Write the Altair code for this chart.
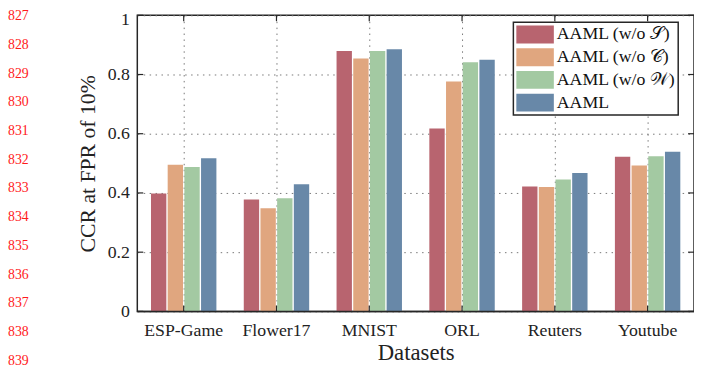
import altair as alt
import pandas as pd

# ---------------- data ----------------
datasets = ["ESP-Game", "Flower17", "MNIST", "ORL", "Reuters", "Youtube"]
series = ["AAML (w/o 𝒮)", "AAML (w/o 𝒞)", "AAML (w/o 𝒲)", "AAML"]
wo_s = [0.398, 0.378, 0.879, 0.618, 0.422, 0.522]
wo_c = [0.495, 0.348, 0.854, 0.776, 0.420, 0.493]
wo_w = [0.488, 0.382, 0.879, 0.841, 0.445, 0.524]
aaml = [0.517, 0.429, 0.885, 0.850, 0.467, 0.539]
y_ticks = [0, 0.2, 0.4, 0.6, 0.8, 1]
line_numbers = list(range(827, 840))
colors = ["#B8646F", "#E0A67F", "#A3C9A2", "#6888A8"]

rows = []
for i, d in enumerate(datasets):
    for s, vals in zip(series, [wo_s, wo_c, wo_w, aaml]):
        rows.append({"dataset": d, "series": s, "ccr": vals[i]})
df = pd.DataFrame(rows)
ydf = pd.DataFrame({"v": y_ticks})
xdf = pd.DataFrame({"dataset": datasets})
lndf = pd.DataFrame({"ln": line_numbers, "label": [str(n) for n in line_numbers]})
one = pd.DataFrame({"a": [0]})

# ---------------- style ----------------
W, H = 564, 300
FONT = "Liberation Serif"
FRAME = "#262626"
TL = 6

xscale = alt.Scale(domain=datasets, paddingInner=0.295, paddingOuter=0.1475)
yscale = alt.Scale(domain=[0, 1], nice=False)

xaxis = alt.Axis(title="Datasets", labelAngle=0, grid=True, ticks=False, domain=False,
                 labelFontSize=18, labelPadding=10,
                 titleFontSize=23, titlePadding=3, titleFontWeight="normal",
                 gridColor="#777", gridDash=[1.5, 4.5], gridWidth=1)

bars = alt.Chart(df).mark_bar().encode(
    x=alt.X("dataset:N", scale=xscale, sort=datasets, axis=xaxis),
    xOffset=alt.XOffset("series:N", sort=series, scale=alt.Scale(paddingInner=0.08, paddingOuter=0)),
    y=alt.Y("ccr:Q", scale=yscale,
            axis=alt.Axis(values=y_ticks, format="~g", title="CCR at FPR of 10%", grid=True,
                          ticks=False, domain=False, labelFontSize=18, labelPadding=8,
                          labelOffset={"condition": {"test": "datum.value == 1", "value": 4}, "value": 0},
                          titleFontSize=22, titlePadding=8, titleFontWeight="normal",
                          gridColor="#777", gridDash=[1.5, 4.5], gridWidth=1)),
    color=alt.Color("series:N", sort=series, scale=alt.Scale(domain=series, range=colors),
                    legend=alt.Legend(orient="none", legendX=381, legendY=7, title=None,
                                      symbolType="M-1,-0.95H3V0.95H-1Z", symbolSize=361,
                                      symbolStrokeWidth=0, symbolOpacity=1,
                                      labelFont=FONT, labelFontSize=18, labelOffset=22,
                                      labelColor="#111", labelLimit=400,
                                      rowPadding=4, padding=3, fillColor="white",
                                      strokeColor=FRAME, cornerRadius=0)),
)

left_ticks = alt.Chart(ydf).mark_rule(color=FRAME, strokeWidth=1.2).encode(
    y=alt.Y("v:Q", scale=yscale, axis=None), x=alt.value(0), x2=alt.value(TL))
right_ticks = alt.Chart(ydf).mark_rule(color=FRAME, strokeWidth=1.2).encode(
    y=alt.Y("v:Q", scale=yscale, axis=None), x=alt.value(W - TL), x2=alt.value(W))
bottom_ticks = alt.Chart(xdf).mark_rule(color=FRAME, strokeWidth=1.2).encode(
    x=alt.X("dataset:N", scale=xscale, sort=datasets, axis=xaxis), y=alt.value(H), y2=alt.value(H - TL))
top_ticks = alt.Chart(xdf).mark_rule(color=FRAME, strokeWidth=1.2).encode(
    x=alt.X("dataset:N", scale=xscale, sort=datasets, axis=xaxis), y=alt.value(0), y2=alt.value(TL))
bottom_line = alt.Chart(one).mark_rule(color=FRAME, strokeWidth=1.5).encode(
    x=alt.value(0), x2=alt.value(W), y=alt.value(H))

line_nums = alt.Chart(lndf).mark_text(align="left", baseline="middle", color="#ff1a1a",
                                      font=FONT, fontSize=14).encode(
    y=alt.Y("ln:Q", scale=alt.Scale(domain=[827, 839], range=[1, 350]), axis=None),
    x=alt.value(-131),
    text="label:N")

chart = alt.layer(bars, left_ticks, right_ticks, bottom_ticks, top_ticks, bottom_line, line_nums
                  ).resolve_scale(y="independent").properties(
    width=W, height=H,
    autosize=alt.AutoSizeParams(type="none"),
    padding={"left": 131, "top": 5, "right": 0, "bottom": 57},
).configure(font=FONT).configure_view(stroke=FRAME, strokeWidth=1.5).configure_axis(
    labelColor="#222", titleColor="#222", labelFont=FONT, titleFont=FONT
).configure_legend(strokeWidth=1.5)

chart.save("out.html", embed_options={"renderer": "svg", "actions": False})
